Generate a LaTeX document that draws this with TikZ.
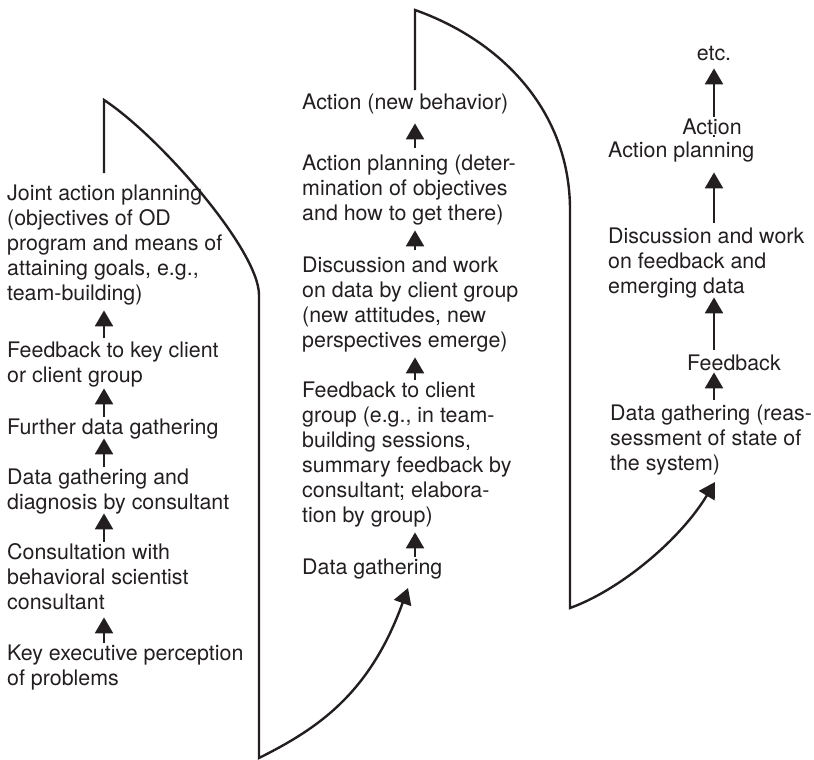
\documentclass[tikz,border=0pt]{standalone}
\usepackage{fontspec}
\setmainfont{TeX Gyre Heros}
\usetikzlibrary{arrows.meta,calc}
\definecolor{ink}{HTML}{231F20}
\newcommand{\diagfont}{\fontsize{21.4}{25}\selectfont}

\begin{document}
\begin{tikzpicture}[x=1pt,y=-1pt,
  txt/.style={inner sep=0pt, anchor=north west, align=left, font=\diagfont, text=ink},
  ctr/.style={inner sep=0pt, anchor=north, font=\diagfont, text=ink},
  flow/.style={draw=ink, line width=2.4pt},
  arr/.style={flow, -{Triangle[width=18pt,length=16pt]}}]
\useasboundingbox (0,0) rectangle (814,760);

% arrow columns
\coordinate (c1) at (104,0);
\coordinate (c2) at (415,0);
\coordinate (c3) at (714,0);

% first cycle
\node[txt] (jap) at (7,183) {\strut Joint action planning\\(objectives of OD\\program and means of\\attaining goals, e.g.,\\team-building)\strut};
\node[txt] (fb1) at (7,340) {\strut Feedback to key client\\or client group\strut};
\node[txt] (fdg) at (7,417) {\strut Further data gathering\strut};
\node[txt] (dgd) at (7,467) {\strut Data gathering and\\diagnosis by consultant\strut};
\node[txt] (cons) at (7,542) {\strut Consultation with\\behavioral scientist\\consultant\strut};
\node[txt] (kep) at (7,643) {\strut Key executive perception\\of problems\strut};

\draw[arr, shorten <=2pt, shorten >=2pt] (fb1.north -| c1) -- (jap.south -| c1);
\draw[arr, shorten >=-2pt] (fdg.north -| c1) -- (fb1.south -| c1);
\draw[arr, shorten >=-4pt] (dgd.north -| c1) -- (fdg.south -| c1);
\draw[arr, shorten >=-4pt] (cons.north -| c1) -- (dgd.south -| c1);
\draw[arr] (kep.north -| c1) -- (cons.south -| c1);

% second cycle
\node[txt] (anb) at (302,92) {\strut Action (new behavior)\strut};
\node[txt] (apl) at (302,153) {\strut Action planning (deter-\\mination of objectives\\and how to get there)\strut};
\node[txt] (dwc) at (302,255) {\strut Discussion and work\\on data by client group\\(new attitudes, new\\perspectives emerge)\strut};
\node[txt] (fbc) at (302,380) {\strut Feedback to client\\group (e.g., in team-\\building sessions,\\summary feedback by\\consultant; elabora-\\tion by group)\strut};
\node[txt] (dg2) at (302,557) {\strut Data gathering\strut};

\draw[arr, shorten <=5pt, shorten >=6pt] (apl.north -| c2) -- (anb.south -| c2);
\draw[arr, shorten <=5pt, shorten >=2pt] (dwc.north -| c2) -- (apl.south -| c2);
\draw[arr, shorten >=2pt] (fbc.north -| c2) -- (dwc.south -| c2);
\draw[arr, shorten >=2pt] (dg2.north -| c2) -- (fbc.south -| c2);

% third cycle
\node[ctr] (etc) at (714,43) {\strut etc.\strut};
\node[ctr] (act) at (712,117) {\strut Action\strut};
\node[txt] (ap3) at (608,140) {\strut Action planning\strut};
\node[txt] (dw3) at (608,226) {\strut Discussion and work\\on feedback and\\emerging data\strut};
\node[txt] (fb3) at (687,353) {\strut Feedback\strut};
\node[txt] (dg3) at (610,403) {\strut Data gathering (reas-\\sessment of state of\\the system)\strut};

\draw[arr] (act.north -| c3) -- (etc.south -| c3);
\draw[flow, shorten <=5pt, shorten >=5pt] (ap3.north -| c3) -- (act.south -| c3);
\draw[arr, shorten <=3pt, shorten >=7pt] (dw3.north -| c3) -- (ap3.south -| c3);
\draw[arr, shorten <=3pt, shorten >=-4pt] (fb3.north -| c3) -- (dw3.south -| c3);
\draw[arr, shorten <=3pt, shorten >=-6pt] (dg3.north -| c3) -- (fb3.south -| c3);

% loops carrying each cycle into the next
\coordinate (top1) at (104,100);
\coordinate (bend1) at (259,295);
\coordinate (foot1) at (259,758);
\coordinate (in2) at (408,588);
\draw[arr] ($(jap.north -| c1)+(0,-10)$) -- (top1)
  .. controls (159,136) and (259,250) .. (bend1) -- (foot1)
  .. controls (319,728) and (370,693) .. (in2);

\coordinate (top2) at (415,10);
\coordinate (bend2) at (570,210);
\coordinate (foot2) at (570,608);
\coordinate (in3) at (715,482);
\draw[arr] ($(anb.north -| c2)+(0,-2)$) -- (top2)
  .. controls (500,40) and (570,110) .. (bend2) -- (foot2)
  .. controls (620,590) and (680,540) .. (in3);
\end{tikzpicture}
\end{document}
